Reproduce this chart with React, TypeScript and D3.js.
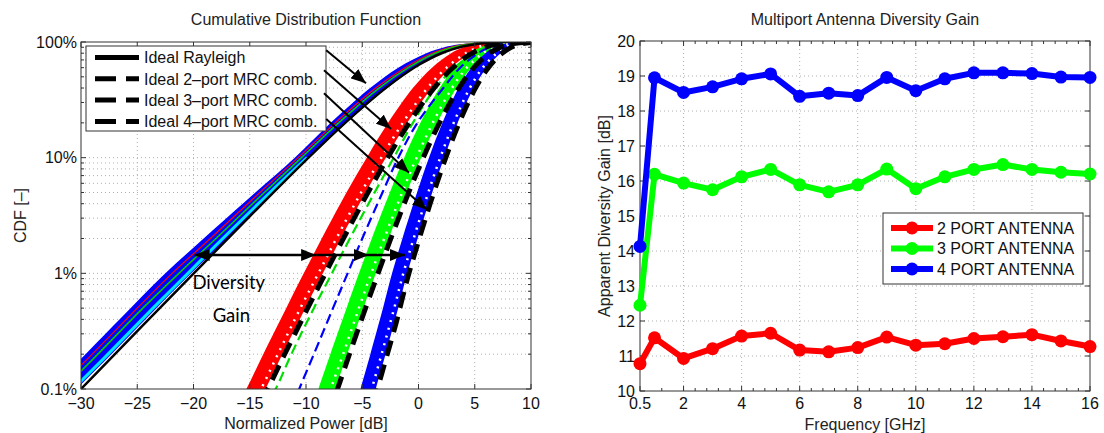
import React from "react";
import * as d3 from "d3";

const FONT = "'Liberation Sans', Arial, Helvetica, sans-serif";

// ---------------- Left panel: CDF ----------------
const cdfXTicks = [-30, -25, -20, -15, -10, -5, 0, 5, 10];
const cdfYTicks = [0.1, 1, 10, 100];
const cdfYLabels = ["0.1%", "1%", "10%", "100%"];
const cdfLegend = ["Ideal Rayleigh", "Ideal 2–port MRC comb.", "Ideal 3–port MRC comb.", "Ideal 4–port MRC comb."];

// ideal curves (dB, %)
const rayleighDb = [-30, -25, -20, -15, -10, -7, -5, -3, -1, 0, 1, 2, 3, 4, 5, 6, 7, 8, 10];
const rayleighPct = [0.1, 0.316, 0.995, 3.11, 9.52, 18.1, 27.1, 39.4, 54.8, 63.2, 71.6, 79.5, 86.4, 91.9, 95.8, 98.1, 99.3, 99.8, 99.995];
const mrc2Db = [-14, -13.4, -12, -10, -8, -6, -4, -2, 0, 1, 2, 3, 4, 5, 6, 7, 8, 9, 10];
const mrc2Pct = [0.077, 0.1, 0.191, 0.468, 1.13, 2.67, 6.1, 13.2, 26.4, 35.9, 47.0, 59.3, 71.5, 82.4, 90.7, 96.0, 98.7, 99.7, 99.95];
const mrc3Db = [-8, -7.2, -6, -4, -2, 0, 1, 2, 3, 4, 5, 6, 7, 8, 9, 10];
const mrc3Pct = [0.059, 0.1, 0.219, 0.78, 2.63, 8.03, 13.35, 21.3, 32.2, 45.9, 61.2, 75.9, 87.6, 95.1, 98.6, 99.72];
const mrc4Db = [-4, -3.65, -3, -2, -1, 0, 1, 2, 3, 4, 5, 6, 7, 8, 9, 10];
const mrc4Pct = [0.074, 0.1, 0.168, 0.37, 0.89, 1.9, 3.91, 7.67, 14.2, 24.5, 38.9, 56.3, 73.7, 87.4, 95.6, 98.97];

// measured bands: CDF levels (%) and left / right edge (dB)
const bandPct = [0.07, 0.1, 0.2, 0.5, 1, 2, 5, 10, 20, 40, 60, 80, 90, 95, 98, 99.5, 99.9];
const rayleighLo = [-34, -32.6, -29.6, -25.6, -22.5, -19.1, -14.5, -11.0, -7.8, -4.3, -1.8, 0.7, 2.3, 3.5, 4.7, 6.0, 7.2];
const rayleighHi = [-32, -30.4, -27.3, -23.3, -20.2, -17.0, -12.9, -9.7, -6.4, -2.8, -0.3, 2.1, 3.65, 4.8, 5.95, 7.25, 8.4];
const rayleighGreen = [-33.2, -31.6, -28.5, -24.5, -21.3, -18.0, -13.7, -10.4, -7.1, -3.5, -0.9, 1.5, 3.1, 4.3, 5.4, 6.7, 7.9];
const rayleighRed = [-33.6, -32.1, -29.0, -25.0, -21.9, -18.5, -14.1, -10.7, -7.4, -3.8, -1.2, 1.2, 2.8, 4.0, 5.2, 6.5, 7.7];
const rayleighCyan = [-32.3, -30.7, -27.6, -23.6, -20.5, -17.4, -13.2, -9.9];

const port2Lo = [-16.2, -15.3, -13.8, -11.76, -10.2, -8.6, -6.4, -4.6, -2.7, -0.5, 1.2, 2.9, 4.0, 4.7, 5.8, 6.9, 8.1];
const port2Hi = [-14.5, -13.6, -12.1, -10.06, -8.5, -6.9, -4.7, -2.9, -1.0, 1.2, 2.9, 4.6, 5.7, 6.4, 7.5, 8.6, 9.8];
const port2White = [-14.9, -14.0, -12.5, -10.5, -8.9, -7.3, -5.1, -3.3, -1.4, 0.8, 2.5, 4.2, 5.3, 6.0, 7.1, 8.2, 9.4];

const port3Lo = [-9.44, -8.9, -7.84, -6.4, -5.29, -4.15, -2.55, -1.27, 0.17, 1.87, 3.2, 4.6, 5.5, 6.3, 7.1, 8.2, 8.8];
const port3Hi = [-7.94, -7.4, -6.34, -4.9, -3.79, -2.65, -1.05, 0.23, 1.67, 3.37, 4.7, 6.1, 7.0, 7.8, 8.6, 9.7, 10.3];
const port3White = [-8.3, -7.8, -6.7, -5.3, -4.2, -3.05, -1.45, -0.17, 1.27, 2.97, 4.3, 5.7, 6.6, 7.4, 8.2, 9.3, 9.9];

const port4Lo = [-5.55, -5.15, -4.28, -3.16, -2.35, -1.43, -0.13, 0.93, 2.13, 3.56, 4.71, 5.95, 6.7, 7.45, 8.2, 8.9, 9.5];
const port4Hi = [-4.2, -3.8, -2.93, -1.81, -1.0, -0.08, 1.22, 2.28, 3.48, 4.91, 6.06, 7.3, 8.05, 8.8, 9.55, 10.25, 10.85];
const port4White = [-4.55, -4.15, -3.28, -2.16, -1.35, -0.43, 0.87, 1.93, 3.13, 4.56, 5.71, 6.95, 7.7, 8.45, 9.2, 9.9, 10.5];

// thin dashed measured curves (first 15 levels)
const thinGreenDb = [-13.7, -12.7, -11.3, -9.3, -7.7, -6.1, -3.9, -2.2, -0.5, 1.5, 3.2, 4.9, 6.0, 6.7, 7.7];
const thinBlueDb = [-11.2, -10.6, -9.3, -7.6, -6.3, -5.0, -3.2, -1.8, -0.1, 2.2, 3.7, 5.3, 6.3, 7.1, 8.0];

// annotations (dB, %)
const noteArrows = [
  { from: [-8.2, 85], to: [-4.67, 44] },
  { from: [-8.4, 57], to: [-2.44, 17.7] },
  { from: [-8.4, 36], to: [-0.84, 7.4] },
  { from: [-8.2, 21.6], to: [0.76, 3.53] },
];
const gainArrowPct = 1.44;
const gainArrowStops = [-19.9, -9.1, -4.4, -1.2];

// ---------------- Right panel: diversity gain ----------------
const freqs = [0.5, 1, 2, 3, 4, 5, 6, 7, 8, 9, 10, 11, 12, 13, 14, 15, 16];
const gain2 = [10.78, 11.52, 10.93, 11.21, 11.57, 11.65, 11.17, 11.12, 11.24, 11.54, 11.31, 11.35, 11.5, 11.55, 11.61, 11.43, 11.27];
const gain3 = [12.45, 16.19, 15.94, 15.75, 16.12, 16.33, 15.89, 15.69, 15.89, 16.34, 15.78, 16.12, 16.33, 16.47, 16.33, 16.25, 16.2];
const gain4 = [14.13, 18.95, 18.53, 18.69, 18.92, 19.06, 18.42, 18.51, 18.44, 18.96, 18.58, 18.92, 19.09, 19.09, 19.07, 18.97, 18.96];
const freqTicks = [0.5, 2, 4, 6, 8, 10, 12, 14, 16];
const freqMinor = [1.25, 2.4, 2.8, 3.2, 3.6, 4.4, 4.8, 5.2, 5.6, 6.4, 6.8, 7.2, 7.6, 8.4, 8.8, 9.2, 9.6, 10.4, 10.8, 11.2, 11.6, 12.4, 12.8, 13.2, 13.6, 14.4, 14.8, 15.2, 15.6];
const gainTicks = [10, 11, 12, 13, 14, 15, 16, 17, 18, 19, 20];
const gainSeries = [
  { name: "2 PORT ANTENNA", color: "#ff0000", values: gain2 },
  { name: "3 PORT ANTENNA", color: "#00ff00", values: gain3 },
  { name: "4 PORT ANTENNA", color: "#0000ff", values: gain4 },
];

const fmtMinus = (v: number) => (v < 0 ? "−" + Math.abs(v) : String(v));

export default function App() {
  // left scales
  const xL = d3.scaleLinear().domain([-30, 10]).range([81, 531]);
  const yL = d3.scaleLog().domain([0.1, 100]).range([389, 42]);
  // right scales
  const xR = d3.scaleLinear().domain([0.5, 16]).range([640, 1090]);
  const yR = d3.scaleLinear().domain([10, 20]).range([391, 41]);

  const L = { l: xL(-30), r: xL(10), t: yL(100), b: yL(0.1) };
  const R = { l: xR(0.5), r: xR(16), t: yR(20), b: yR(10) };

  const idealLine = (db: number[], pct: number[]) =>
    d3.line<number>().x((d) => xL(d)).y((_, i) => yL(pct[i])).curve(d3.curveMonotoneX)(db) || "";
  const bandArea = (lo: number[], hi: number[]) =>
    d3.area<number>().y((p) => yL(p)).x0((_, i) => xL(lo[i])).x1((_, i) => xL(hi[i])).curve(d3.curveCatmullRom)(bandPct) || "";
  const traceLine = (db: number[]) =>
    d3.line<number>().x((d) => xL(d)).y((_, i) => yL(bandPct[i])).curve(d3.curveCatmullRom)(db) || "";

  const minorPct: number[] = [];
  [0.1, 1, 10].forEach((dec) => {
    for (let k = 2; k <= 9; k++) minorPct.push(dec * k);
  });

  const gainLine = d3.line<number>().x((_, i) => xR(freqs[i])).y((d) => yR(d));

  const axisColor = "#333";
  const gridProps = { stroke: "#b0b0b0", strokeWidth: 1, strokeDasharray: "1 3" };

  return (
    <svg width={1104} height={433} style={{ position: "absolute", left: 0, top: 0, background: "#fff" }} fontFamily={FONT}>
      <defs>
        <clipPath id="cdfclip">
          <rect x={L.l} y={L.t} width={L.r - L.l} height={L.b - L.t} />
        </clipPath>
        <marker id="ah" viewBox="0 0 15 12" refX="15" refY="6" markerWidth="15" markerHeight="12" markerUnits="userSpaceOnUse" orient="auto-start-reverse">
          <path d="M0,0L15,6L0,12Z" fill="#000" />
        </marker>
      </defs>
      <rect x={0} y={0} width={1104} height={433} fill="#fff" />

      {/* ===== LEFT PANEL ===== */}
      <text x={(L.l + L.r) / 2} y={25} textAnchor="middle" fontSize={16} fill="#222">Cumulative Distribution Function</text>
      {cdfXTicks.slice(1, -1).map((v) => (
        <line key={"gx" + v} x1={xL(v)} x2={xL(v)} y1={L.t} y2={L.b} {...gridProps} />
      ))}
      {minorPct.concat([1, 10]).map((v) => (
        <line key={"gy" + v} x1={L.l} x2={L.r} y1={yL(v)} y2={yL(v)} {...gridProps} />
      ))}

      <g clipPath="url(#cdfclip)">
        <path d={bandArea(rayleighLo, rayleighHi)} fill="#0000ff" />
        <path d={traceLine(rayleighRed)} fill="none" stroke="#ff0000" strokeWidth={1.2} />
        <path d={traceLine(rayleighGreen)} fill="none" stroke="#00cc00" strokeWidth={1.6} />
        <path
          d={d3.line<number>().x((d) => xL(d)).y((_, i) => yL(bandPct[i])).curve(d3.curveCatmullRom)(rayleighCyan) || ""}
          fill="none" stroke="#00e5ff" strokeWidth={3}
        />
        <path d={bandArea(port2Lo, port2Hi)} fill="#ff0000" />
        <path d={bandArea(port3Lo, port3Hi)} fill="#00ff00" />
        <path d={bandArea(port4Lo, port4Hi)} fill="#0000ff" />
        <path d={traceLine(port2White)} fill="none" stroke="#fff" strokeWidth={2.5} strokeDasharray="2 6" />
        <path d={traceLine(port3White)} fill="none" stroke="#fff" strokeWidth={2.5} strokeDasharray="2 6" />
        <path d={traceLine(port4White)} fill="none" stroke="#fff" strokeWidth={2.5} strokeDasharray="2 6" />
        <path d={traceLine(thinGreenDb)} fill="none" stroke="#00e000" strokeWidth={2.2} strokeDasharray="10 5" />
        <path d={traceLine(thinBlueDb)} fill="none" stroke="#0000ff" strokeWidth={2.2} strokeDasharray="10 5" />
        <path d={idealLine(rayleighDb, rayleighPct)} fill="none" stroke="#000" strokeWidth={2.5} />
        <path d={idealLine(mrc2Db, mrc2Pct)} fill="none" stroke="#000" strokeWidth={5} strokeDasharray="16 9" />
        <path d={idealLine(mrc3Db, mrc3Pct)} fill="none" stroke="#000" strokeWidth={5} strokeDasharray="16 9" />
        <path d={idealLine(mrc4Db, mrc4Pct)} fill="none" stroke="#000" strokeWidth={5} strokeDasharray="16 9" />
      </g>

      <rect x={L.l} y={L.t} width={L.r - L.l} height={L.b - L.t} fill="none" stroke={axisColor} strokeWidth={1} />
      {cdfXTicks.map((v) => (
        <g key={"tx" + v}>
          <line x1={xL(v)} x2={xL(v)} y1={L.b} y2={L.b - 5} stroke={axisColor} />
          <line x1={xL(v)} x2={xL(v)} y1={L.t} y2={L.t + 5} stroke={axisColor} />
          <text x={xL(v)} y={L.b + 20} textAnchor="middle" fontSize={16} fill="#111">{fmtMinus(v)}</text>
        </g>
      ))}
      {cdfYTicks.map((v, i) => (
        <g key={"ty" + v}>
          <line x1={L.l} x2={L.l + 5} y1={yL(v)} y2={yL(v)} stroke={axisColor} />
          <line x1={L.r} x2={L.r - 5} y1={yL(v)} y2={yL(v)} stroke={axisColor} />
          <text x={L.l - 4} y={yL(v)} dy="0.35em" textAnchor="end" fontSize={16} fill="#111">{cdfYLabels[i]}</text>
        </g>
      ))}
      {minorPct.map((v) => (
        <g key={"my" + v}>
          <line x1={L.l} x2={L.l + 3} y1={yL(v)} y2={yL(v)} stroke={axisColor} />
          <line x1={L.r} x2={L.r - 3} y1={yL(v)} y2={yL(v)} stroke={axisColor} />
        </g>
      ))}
      <text x={(L.l + L.r) / 2} y={429} textAnchor="middle" fontSize={16} fill="#222">Normalized Power [dB]</text>
      <text transform={`translate(26,${(L.t + L.b) / 2}) rotate(-90)`} textAnchor="middle" fontSize={16} fill="#222">CDF [–]</text>

      <rect x={86} y={46} width={240} height={85} fill="#fff" stroke={axisColor} strokeWidth={1} />
      {cdfLegend.map((name, i) => {
        const yy = 57.5 + i * 21.3;
        return (
          <g key={name}>
            <line x1={95} x2={139} y1={yy} y2={yy} stroke="#000" strokeWidth={5} strokeDasharray={i === 0 ? undefined : "21 10"} />
            <text x={144} y={yy} dy="0.36em" fontSize={16} fill="#111">{name}</text>
          </g>
        );
      })}

      {noteArrows.map((a, i) => (
        <line key={"ar" + i} x1={xL(a.from[0])} y1={yL(a.from[1])} x2={xL(a.to[0])} y2={yL(a.to[1])} stroke="#000" strokeWidth={2} markerEnd="url(#ah)" />
      ))}
      {gainArrowStops.slice(1).map((s, i) => (
        <line
          key={"ga" + i}
          x1={xL(gainArrowStops[i])} x2={xL(s)} y1={yL(gainArrowPct)} y2={yL(gainArrowPct)}
          stroke="#000" strokeWidth={2.5}
          markerEnd="url(#ah)" markerStart={i === 0 ? "url(#ah)" : undefined}
        />
      ))}
      <text x={xL(-20.1)} y={289} fontSize={18.5} fontFamily="Lato, 'Open Sans', sans-serif" fill="#000">Diversity</text>
      <text x={xL(-18.3)} y={322} fontSize={18.5} fontFamily="Lato, 'Open Sans', sans-serif" fill="#000">Gain</text>

      {/* ===== RIGHT PANEL ===== */}
      <text x={(R.l + R.r) / 2} y={25} textAnchor="middle" fontSize={16} fill="#222">Multiport Antenna Diversity Gain</text>
      {freqTicks.slice(1, -1).map((v) => (
        <line key={"rgx" + v} x1={xR(v)} x2={xR(v)} y1={R.t} y2={R.b} {...gridProps} />
      ))}
      {gainTicks.slice(1, -1).map((v) => (
        <line key={"rgy" + v} x1={R.l} x2={R.r} y1={yR(v)} y2={yR(v)} {...gridProps} />
      ))}
      <rect x={R.l} y={R.t} width={R.r - R.l} height={R.b - R.t} fill="none" stroke={axisColor} strokeWidth={1} />
      {freqTicks.map((v) => (
        <g key={"rtx" + v}>
          <line x1={xR(v)} x2={xR(v)} y1={R.b} y2={R.b - 5} stroke={axisColor} />
          <line x1={xR(v)} x2={xR(v)} y1={R.t} y2={R.t + 5} stroke={axisColor} />
          <text x={xR(v)} y={R.b + 18} textAnchor="middle" fontSize={16} fill="#111">{v}</text>
        </g>
      ))}
      {freqMinor.map((v) => (
        <g key={"rmx" + v}>
          <line x1={xR(v)} x2={xR(v)} y1={R.b} y2={R.b - 3} stroke={axisColor} />
          <line x1={xR(v)} x2={xR(v)} y1={R.t} y2={R.t + 3} stroke={axisColor} />
        </g>
      ))}
      {gainTicks.map((v) => (
        <g key={"rty" + v}>
          <line x1={R.l} x2={R.l + 5} y1={yR(v)} y2={yR(v)} stroke={axisColor} />
          <line x1={R.r} x2={R.r - 5} y1={yR(v)} y2={yR(v)} stroke={axisColor} />
          <text x={R.l - 5} y={yR(v)} dy="0.35em" textAnchor="end" fontSize={16} fill="#111">{v}</text>
        </g>
      ))}
      {gainSeries.map((s) => (
        <g key={s.name}>
          <path d={gainLine(s.values) || ""} fill="none" stroke={s.color} strokeWidth={6} strokeLinejoin="round" />
          {s.values.map((v, i) => (
            <circle key={i} cx={xR(freqs[i])} cy={yR(v)} r={6.5} fill={s.color} />
          ))}
        </g>
      ))}
      <text x={(R.l + R.r) / 2} y={430} textAnchor="middle" fontSize={16} fill="#222">Frequency [GHz]</text>
      <text transform={`translate(610,${(R.t + R.b) / 2}) rotate(-90)`} textAnchor="middle" fontSize={16} fill="#222">Apparent Diversity Gain [dB]</text>

      <rect x={883} y={213} width={200} height={71} fill="#fff" stroke={axisColor} strokeWidth={1} />
      {gainSeries.map((s, i) => {
        const yy = 228 + i * 20.5;
        return (
          <g key={"lg" + s.name}>
            <line x1={891} x2={933} y1={yy} y2={yy} stroke={s.color} strokeWidth={6} />
            <circle cx={912} cy={yy} r={6.5} fill={s.color} />
            <text x={937} y={yy} dy="0.36em" fontSize={16} fill="#111">{s.name}</text>
          </g>
        );
      })}
    </svg>
  );
}
